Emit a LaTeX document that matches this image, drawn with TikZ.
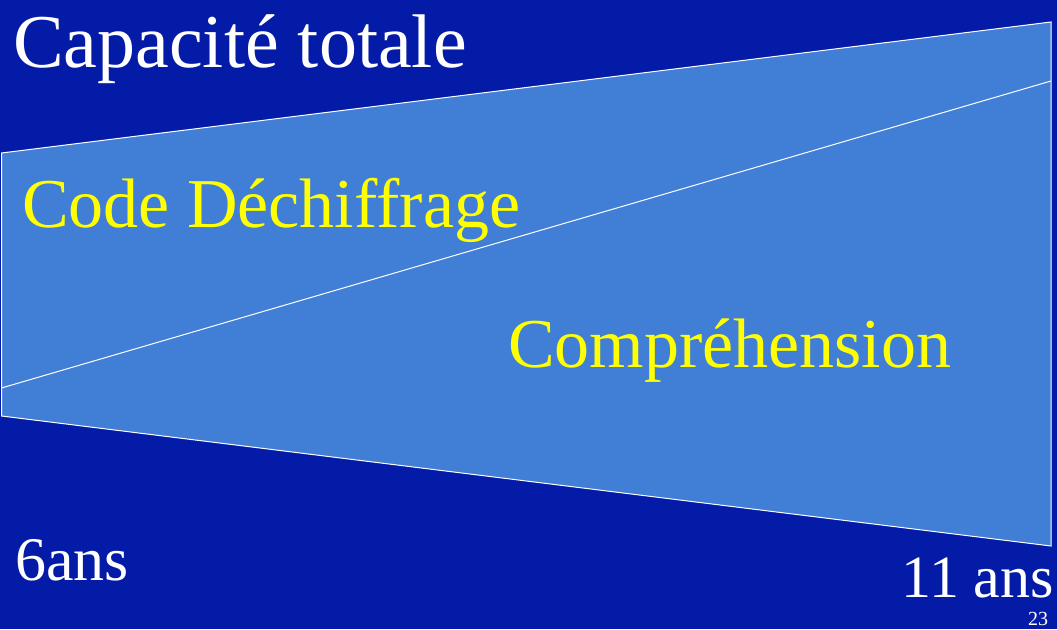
\documentclass[tikz,border=0pt]{standalone}
\usepackage{fontspec}
\setmainfont{Liberation Serif}
\definecolor{bgblue}{RGB}{3,27,166}
\definecolor{fillblue}{RGB}{65,126,214}
\definecolor{txtyellow}{RGB}{255,255,0}
\begin{document}
\begin{tikzpicture}[x=1pt,y=-1pt,
  lbl/.style={inner sep=0pt,outer sep=0pt},
  wtxt/.style={lbl,text=white},
  ytxt/.style={lbl,text=txtyellow},
  edge/.style={draw=white,line width=1pt}]
\fill[bgblue] (0,0) rectangle (1057,629);
\useasboundingbox (0,0) rectangle (1057,629);
\coordinate (tl) at (1.5,153);
\coordinate (tr) at (1051,22);
\coordinate (br) at (1051,546);
\coordinate (bl) at (1.5,416);
\coordinate (ml) at (1.5,388);
\coordinate (mr) at (1051,81);
\filldraw[fill=fillblue,edge] (tl) -- (tr) -- (br) -- (bl) -- cycle;
\draw[edge] (ml) -- (mr);
\node[wtxt,anchor=base west,font=\fontsize{76}{80}\selectfont] (cap) at (13,67) {Capacité totale};
\node[ytxt,anchor=base west,font=\fontsize{70}{74}\selectfont] (code) at (22,227) {Code Déchiffrage};
\node[ytxt,anchor=base west,font=\fontsize{70}{74}\selectfont] (comp) at (508,367) {Compréhension};
\node[wtxt,anchor=base west,font=\fontsize{62}{66}\selectfont] (six) at (15,580) {6ans};
\node[wtxt,anchor=base east,font=\fontsize{60}{64}\selectfont] (onze) at (1054,597) {11 ans};
\node[wtxt,anchor=base east,font=\fontsize{20}{24}\selectfont] (num) at (1048,625.5) {23};
\end{tikzpicture}
\end{document}
